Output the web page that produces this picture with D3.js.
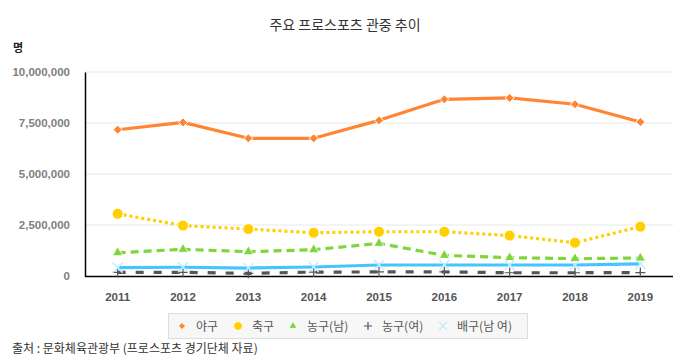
<!DOCTYPE html>
<html><head><meta charset="utf-8">
<script src="https://cdn.jsdelivr.net/npm/d3@7"></script>
<style>body{margin:0;background:#fff;}svg{display:block;font-family:"Noto Sans CJK KR","Liberation Sans",sans-serif;}</style>
</head><body><svg id="c" width="690" height="360"></svg>
<script>
const years = ["2011","2012","2013","2014","2015","2016","2017","2018","2019"];
const baseball = [7170000,7530000,6750000,6750000,7630000,8660000,8730000,8420000,7550000];
const football = [3050000,2470000,2300000,2120000,2170000,2170000,1980000,1630000,2420000];
const basketM = [1140000,1310000,1190000,1290000,1600000,1010000,900000,850000,880000];
const basketW = [180000,180000,130000,190000,200000,200000,160000,160000,170000];
const volley = [410000,430000,390000,440000,540000,540000,540000,540000,590000];
const yTicks = [0,2500000,5000000,7500000,10000000];
const seriesNames = ["야구","축구","농구(남)","농구(여)","배구(남 여)"];

const series = [
  {name:seriesNames[0], values:baseball, color:"#ff8533", dash:null, marker:"diamond"},
  {name:seriesNames[1], values:football, color:"#ffd000", dash:"3,3", marker:"circle"},
  {name:seriesNames[2], values:basketM, color:"#7ed63c", dash:"8,5", marker:"triangle"},
  {name:seriesNames[3], values:basketW, color:"#555555", dash:"8,10", marker:"plus"},
  {name:seriesNames[4], values:volley, color:"#44c5ff", dash:null, marker:"x"}
];

const svg = d3.select("#c");
const L=85, R=673, T=72, B=276;
const x = d3.scaleBand().domain(years).range([L,R]);
const cx = d => x(d)+x.bandwidth()/2;
const y = d3.scaleLinear().domain([0,10000000]).range([B,T]);

svg.append("text").attr("x",345).attr("y",30).attr("text-anchor","middle")
  .attr("font-size",14).attr("fill","#333").text("주요 프로스포츠 관중 추이");
svg.append("text").attr("x",13).attr("y",52).attr("font-size",11).attr("font-weight","bold")
  .attr("fill","#222").text("명");

// grid
svg.append("g").selectAll("line").data(yTicks.filter(d=>d>0)).join("line")
  .attr("x1",L).attr("x2",R).attr("y1",d=>y(d)).attr("y2",d=>y(d))
  .attr("stroke","#e8e8e8").attr("stroke-width",1);

// y axis
const ya = svg.append("g").attr("transform",`translate(${L},0)`)
  .call(d3.axisLeft(y).tickValues(yTicks).tickSize(0).tickPadding(15).tickFormat(d3.format(",")));
ya.select(".domain").attr("stroke","#000").attr("stroke-width",1.5);
ya.selectAll("text").attr("font-family","Liberation Sans, sans-serif").attr("font-size",11.5)
  .attr("font-weight","bold").attr("fill","#808080");

// x axis
const xa = svg.append("g").attr("transform",`translate(0,${B})`)
  .call(d3.axisBottom(x).tickSize(0).tickPadding(17));
xa.select(".domain").attr("stroke","#000").attr("stroke-width",1.5).attr("d",`M${L},0.5H${R}`);
xa.selectAll("text").attr("font-family","Liberation Sans, sans-serif").attr("font-size",11.5)
  .attr("font-weight","bold").attr("fill","#555");

function drawMarker(g, type, color, px, py, s){
  s = s||1;
  if(type==="diamond"){
    const r=4.5*s;
    g.append("path").attr("d",`M${px},${py-r}L${px+r},${py}L${px},${py+r}L${px-r},${py}Z`)
      .attr("fill",color).attr("stroke","#fff").attr("stroke-width",1);
  } else if(type==="circle"){
    g.append("circle").attr("cx",px).attr("cy",py).attr("r",5.5*s).attr("fill",color).attr("stroke","#fff").attr("stroke-width",1);
  } else if(type==="triangle"){
    g.append("path").attr("d",d3.symbol(d3.symbolTriangle, 45*s*s)()).attr("transform",`translate(${px},${py})`)
      .attr("fill",color).attr("stroke","#fff").attr("stroke-width",0.8);
  } else if(type==="plus"){
    g.append("path").attr("d",`M${px-5*s},${py}H${px+5*s}M${px},${py-5*s}V${py+5*s}`)
      .attr("stroke",color).attr("stroke-width",1.2).attr("fill","none");
  } else if(type==="x"){
    g.append("path").attr("d",`M${px-5*s},${py-5*s}L${px+5*s},${py+5*s}M${px+5*s},${py-5*s}L${px-5*s},${py+5*s}`)
      .attr("stroke","#c5ecff").attr("stroke-width",1.5).attr("fill","none");
  }
}

const line = d3.line().x((d,i)=>cx(years[i])).y(d=>y(d));
const order = [3,4,2,1,0];
order.forEach(k=>{
  const s = series[k];
  const g = svg.append("g");
  g.append("path").datum(s.values).attr("d",line).attr("fill","none")
    .attr("stroke",s.color).attr("stroke-width",3.2)
    .attr("stroke-dasharray",s.dash).attr("stroke-linejoin","round");
  s.values.forEach((v,i)=>drawMarker(g,s.marker,s.color,cx(years[i]),y(v)));
});

// legend
const lg = svg.append("g");
lg.append("rect").attr("x",168.5).attr("y",313.5).attr("width",359).attr("height",25)
  .attr("fill","#f7f7f7").attr("stroke","#ddd");
const lx = [182,238,293,368,443];
series.forEach((s,i)=>{
  drawMarker(lg,s.marker,s.color,lx[i],326,0.8);
  lg.append("text").attr("x",lx[i]+14).attr("y",330.5).attr("font-size",12).attr("fill","#555").text(s.name);
});

svg.append("text").attr("x",12).attr("y",353).attr("font-size",12).attr("fill","#333")
  .text("출처 : 문화체육관광부 (프로스포츠 경기단체 자료)");
</script></body></html>
